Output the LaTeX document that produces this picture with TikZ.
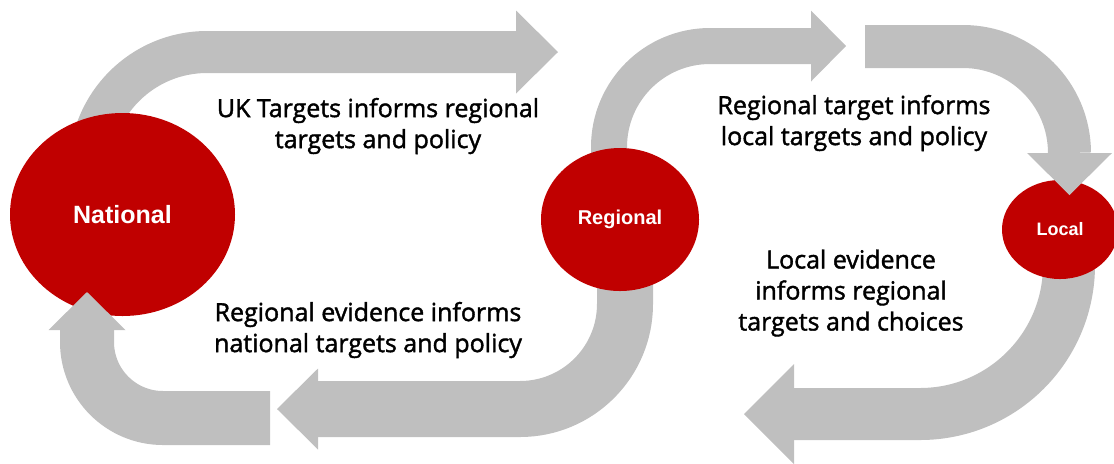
\documentclass[tikz,border=0pt]{standalone}
\usepackage{fontspec}
\setmainfont{Open Sans}
\newfontfamily\notefont{Open Sans}[FakeBold=1.6]
\newfontfamily\circfont{Liberation Sans}
\usepackage{tikz}
\usetikzlibrary{arrows.meta,shapes.geometric,backgrounds}
\definecolor{darkred}{HTML}{C00000}
\definecolor{arrowgray}{HTML}{BFBFBF}

\begin{document}
\begin{tikzpicture}[x=0.5pt,y=-0.5pt,
   level/.style={ellipse,fill=darkred,inner sep=0pt,text=white},
   flow/.style={draw=arrowgray,line width=#1},
   head/.style 2 args={-{Triangle[length=#1,width=#2,line width=0pt]}},
   note/.style={align=center,font=\notefont\fontsize{12.5}{15.5}\selectfont}]

  \useasboundingbox (0,0) rectangle (1114,463);

  \node[level,minimum width=112.5pt,minimum height=101.5pt,
        font=\circfont\bfseries\fontsize{12.5}{15}\selectfont] (national) at (122.5,214.5) {National};
  \node[level,minimum width=79pt,minimum height=71.5pt,
        font=\circfont\bfseries\fontsize{10}{12}\selectfont] (regional) at (620,219.5) {Regional};
  \node[level,minimum width=58pt,minimum height=49.5pt,
        font=\circfont\bfseries\fontsize{9}{10}\selectfont] (local) at (1060,229.5) {Local};

  \node[note] (uktext) at (378,126) {UK Targets informs regional\\targets and policy};
  \node[note] (regevtext) at (368,330) {Regional evidence informs\\national targets and policy};
  \node[note] (regtext) at (854,123) {Regional target informs\\local targets and policy};
  \node[note] (locevtext) at (851,293) {Local evidence\\informs regional\\targets and choices};

  % ends of the arrows
  \coordinate (natout) at (90,169);
  \coordinate (natin) at (270,418);
  \coordinate (natup) at (558,52);
  \coordinate (natback) at (87,292);
  \coordinate (regup) at (609,190);
  \coordinate (regdown) at (625,240);
  \coordinate (regright) at (846,46);
  \coordinate (regleft) at (277,409);
  \coordinate (locin) at (865,46.5);
  \coordinate (loctip) at (1069.5,195);
  \coordinate (locout) at (1069,240);
  \coordinate (locleft) at (744,414);

  % arrows leaving a circle go behind it
  \begin{scope}[on background layer]
    \draw[flow=21pt,head={21pt}{41.5pt}] (natout)
      arc[start angle=180,end angle=270,radius=117] -- (natup);
    \draw[flow=18pt,head={17.5pt}{35.5pt}] (regup) -- (609,147)
      arc[start angle=180,end angle=270,radius=101] -- (regright);
    \draw[flow=28pt,head={20.5pt}{40.5pt}] (regdown) -- (625,304)
      arc[start angle=0,end angle=90,radius=105] -- (regleft);
    \draw[flow=26pt,head={25pt}{50pt}] (locout) -- (1069,265)
      arc[start angle=0,end angle=90,radius=149] -- (locleft);
  \end{scope}

  % arrows coming into a circle lie on top of it
  \draw[flow=27pt,head={19pt}{38.5pt}] (natin) -- (163,418)
    arc[start angle=90,end angle=180,radius=76] -- (natback);
  \draw[flow=21.5pt,head={21pt}{42.5pt}] (locin) -- (963,46.5)
    arc[start angle=270,end angle=360,radius=106.5] -- (loctip);
\end{tikzpicture}
\end{document}
